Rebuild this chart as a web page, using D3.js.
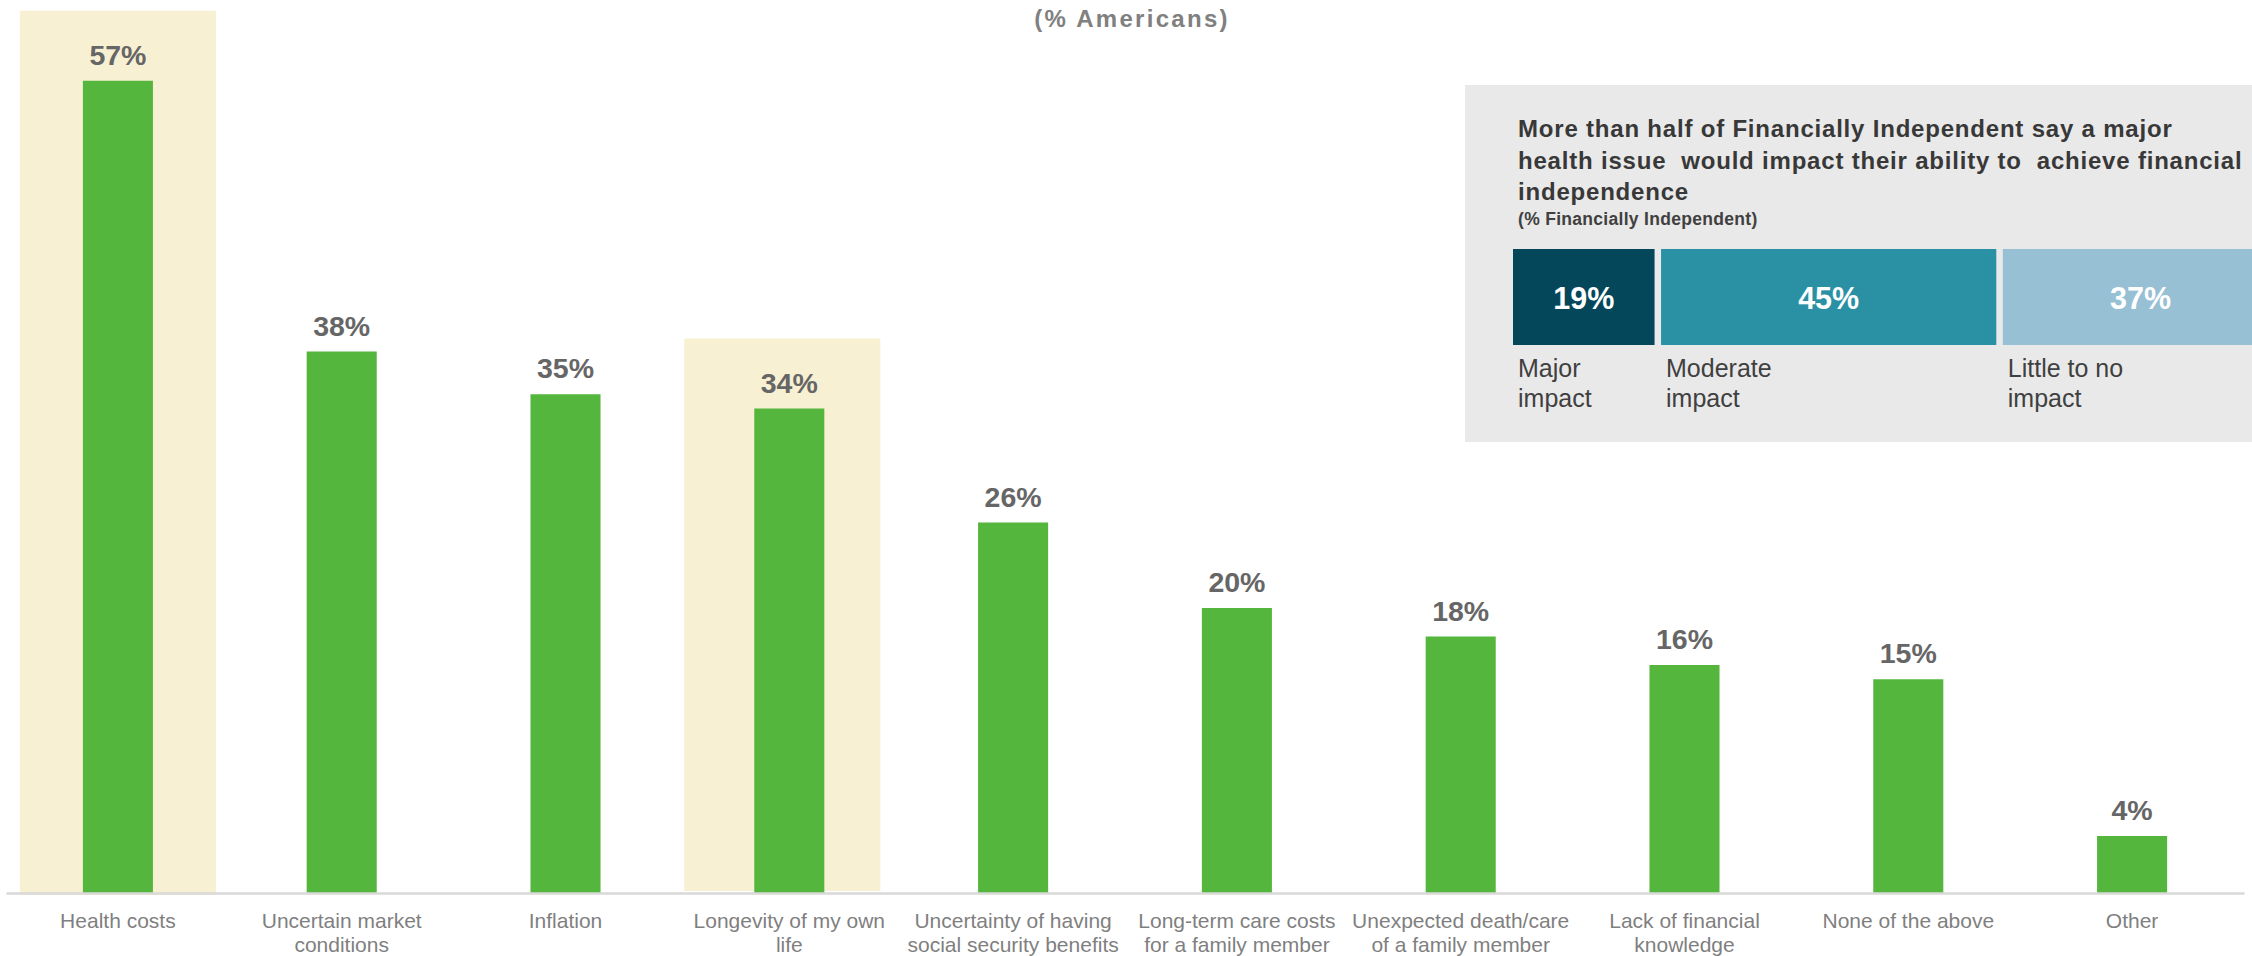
<!DOCTYPE html>
<html>
<head>
<meta charset="utf-8">
<script src="https://cdn.jsdelivr.net/npm/d3@7"></script>
<style>
  html, body { margin: 0; padding: 0; background: #ffffff; }
  svg { display: block; }
  text { font-family: "Liberation Sans", Arial, Helvetica, sans-serif; }
</style>
</head>
<body>
<svg id="chart" width="2252" height="956"></svg>
<script>
// Concerns about reaching financial independence (% Americans)
const categories = [
  "Health costs",
  "Uncertain market\nconditions",
  "Inflation",
  "Longevity of my own\nlife",
  "Uncertainty of having\nsocial security benefits",
  "Long-term care costs\nfor a family member",
  "Unexpected death/care\nof a family member",
  "Lack of financial\nknowledge",
  "None of the above",
  "Other"
];
const values = [57, 38, 35, 34, 26, 20, 18, 16, 15, 4];
const highlighted = ["Health costs", "Longevity of my own\nlife"];

// Inset: impact of a major health issue (% Financially Independent)
const impactLabels = ["Major\nimpact", "Moderate\nimpact", "Little to no\nimpact"];
const impactValues = [19, 45, 37];
const impactColors = ["#04475b", "#2a91a5", "#97c0d5"];

const insetTitle = [
  "More than half of Financially Independent say a major",
  "health issue  would impact their ability to  achieve financial",
  "independence"
];
const insetSubtitle = "(% Financially Independent)";
const chartSubtitle = "(% Americans)";

const svg = d3.select("#chart");

// ---- main bar chart ----
const x = d3.scaleBand()
  .domain(categories)
  .range([6, 2244])
  .paddingInner(0.687)
  .paddingOuter(0.3435);

const y = d3.scaleLinear()
  .domain([0, 60])
  .range([893, 38]);

// highlight panel extents around a bar: [left, right, bottom overhang]
const panelPad = [[63, 63, 2], [70, 56, -2]];

svg.append("g")
  .selectAll("rect")
  .data(categories.map((c, i) => ({ c, v: values[i] })).filter(d => highlighted.includes(d.c)))
  .join("rect")
  .attr("x", (d, i) => x(d.c) - panelPad[i][0])
  .attr("width", (d, i) => x.bandwidth() + panelPad[i][0] + panelPad[i][1])
  .attr("y", d => y(d.v) - 70)
  .attr("height", (d, i) => y(0) + panelPad[i][2] - (y(d.v) - 70))
  .attr("fill", "#f7f0d3");

// bars
svg.append("g")
  .selectAll("rect")
  .data(categories.map((c, i) => ({ c, v: values[i] })))
  .join("rect")
  .attr("x", d => x(d.c))
  .attr("width", x.bandwidth())
  .attr("y", d => y(d.v))
  .attr("height", d => y(0) - y(d.v))
  .attr("fill", "#55b63d");

// value labels
svg.append("g")
  .selectAll("text")
  .data(categories.map((c, i) => ({ c, v: values[i] })))
  .join("text")
  .attr("x", d => x(d.c) + x.bandwidth() / 2)
  .attr("y", d => y(d.v) - 16)
  .attr("text-anchor", "middle")
  .attr("font-size", 28.5)
  .attr("font-weight", "bold")
  .attr("fill", "#666666")
  .text(d => d.v + "%");

// category axis
const axis = svg.append("g")
  .attr("transform", `translate(0,${y(0)})`)
  .call(d3.axisBottom(x).tickSize(0).tickSizeOuter(0).tickPadding(20));

axis.select(".domain")
  .attr("stroke", "#d9d9d9")
  .attr("stroke-width", 2.5);

axis.selectAll(".tick text")
  .attr("font-size", 21)
  .attr("fill", "#7f7f7f")
  .attr("font-family", "'Liberation Sans', Arial, sans-serif")
  .each(function (d) {
    const t = d3.select(this);
    const lines = d.split("\n");
    t.text(null);
    lines.forEach((ln, i) => {
      t.append("tspan")
        .attr("x", 0)
        .attr("dy", i === 0 ? "0.71em" : "24px")
        .text(ln);
    });
    t.attr("dy", null);
  });

// chart subtitle
svg.append("text")
  .attr("x", 1132)
  .attr("y", 27)
  .attr("text-anchor", "middle")
  .attr("font-size", 24)
  .attr("font-weight", "bold")
  .attr("letter-spacing", "2.3px")
  .attr("fill", "#808080")
  .text(chartSubtitle);

// ---- inset panel ----
const inset = svg.append("g");

inset.append("rect")
  .attr("x", 1465)
  .attr("y", 85)
  .attr("width", 2252 - 1465 + 10)
  .attr("height", 357)
  .attr("fill", "#e9e9e9");

inset.append("g")
  .selectAll("text")
  .data(insetTitle)
  .join("text")
  .attr("x", 1518)
  .attr("y", (d, i) => 137 + i * 31.5)
  .attr("font-size", 24)
  .attr("font-weight", "bold")
  .attr("letter-spacing", "0.8px")
  .attr("fill", "#383838")
  .style("white-space", "pre")
  .text(d => d);

inset.append("text")
  .attr("x", 1518)
  .attr("y", 225)
  .attr("font-size", 17.5)
  .attr("font-weight", "bold")
  .attr("letter-spacing", "0.3px")
  .attr("fill", "#404040")
  .text(insetSubtitle);

// stacked bar of impact shares
const xi = d3.scaleLinear().domain([0, 100]).range([1513, 2258]);
const gap = 6.5;
const cum = d3.cumsum([0, ...impactValues]);
const segs = impactValues.map((v, i) => ({
  v,
  label: impactLabels[i],
  color: impactColors[i],
  x0: xi(cum[i]) + i * gap,
  w: xi(v) - xi(0)
}));

inset.append("g")
  .selectAll("rect")
  .data(segs)
  .join("rect")
  .attr("x", d => d.x0)
  .attr("width", d => d.w)
  .attr("y", 249)
  .attr("height", 96)
  .attr("fill", d => d.color);

inset.append("g")
  .selectAll("text")
  .data(segs)
  .join("text")
  .attr("x", d => d.x0 + d.w / 2)
  .attr("y", 309)
  .attr("text-anchor", "middle")
  .attr("font-size", 30.5)
  .attr("font-weight", "bold")
  .attr("fill", "#ffffff")
  .text(d => d.v + "%");

inset.append("g")
  .selectAll("text")
  .data(segs)
  .join("text")
  .attr("x", d => d.x0 + 5)
  .attr("y", 377)
  .attr("font-size", 25)
  .attr("fill", "#404040")
  .each(function (d) {
    const t = d3.select(this);
    d.label.split("\n").forEach((ln, i) => {
      t.append("tspan")
        .attr("x", d.x0 + 5)
        .attr("dy", i === 0 ? 0 : 30)
        .text(ln);
    });
  });
</script>
</body>
</html>
